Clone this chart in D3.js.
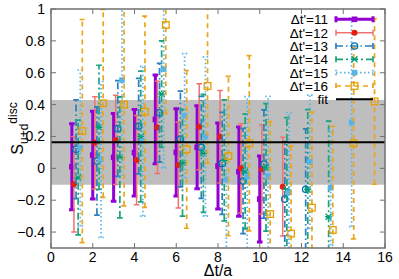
<!DOCTYPE html>
<html>
<head>
<meta charset="utf-8">
<script src="https://cdn.jsdelivr.net/npm/d3@7"></script>
<style>
  body { margin: 0; background: #fff; }
  svg { font-family: "Liberation Sans", Arial, sans-serif; }
</style>
</head>
<body>
<div id="chart"></div>
<script>
// данные: центральные значения и ошибки для каждого dt'
const seriesNames = ['Δt\'=11', 'Δt\'=12', 'Δt\'=13', 'Δt\'=14', 'Δt\'=15', 'Δt\'=16']

const val11 = [0.01, 0.083, 0.069, 0.098, 0.307, 0.10, 0.132, 0.014, -0.021, -0.193]
const err11 = [0.27, 0.275, 0.275, 0.272, 0.278, 0.274, 0.26, 0.27, 0.28, 0.27]

const val12 = [-0.10, 0.16, 0.178, 0.052, 0.257, 0.021, 0.261, 0.198, 0.0, -0.006, -0.115]
const err12 = [0.30, 0.29, 0.28, 0.28, 0.29, 0.27, 0.27, 0.29, 0.28, 0.28, 0.31]

const val13 = [0.12, 0.046, 0.25, 0.265, 0.349, 0.184, 0.132, 0.031, -0.08, 0.027, -0.193, -0.132]
const err13 = [0.31, 0.34, 0.30, 0.30, 0.31, 0.30, 0.32, 0.32, 0.33, 0.34, 0.36, 0.38]

const val14 = [-0.057, 0.257, 0.069, 0.2, 0.466, 0.035, 0.094, 0.05, -0.02, 0.006, -0.132, -0.132, -0.304]
const err14 = [0.36, 0.39, 0.38, 0.41, 0.334, 0.335, 0.37, 0.38, 0.36, 0.40, 0.45, 0.5, 0.6]

const val15 = [0.127, 0.056, 0.554, 0.17, 0.623, 0.33, 0.2, -0.069, -0.05, -0.048, -0.15, 0.04, -0.122, 0.289]
const err15 = [0.49, 0.49, 0.6, 0.47, 0.62, 0.39, 0.5, 0.45, 0.5, 0.5, 0.5, 0.42, 0.36, 0.655]

const val16 = [0.234, 0.408, 0.40, 0.355, 0.90, 0.119, 0.517, 0.077, 0.157, -0.287, -0.41, -0.247, -0.387, 0.157, 0.42]
const err16 = [0.70, 0.59, 0.635, 0.60, 0.555, 0.495, 0.485, 0.5, 0.55, 0.58, 0.55, 0.6, 0.65, 0.6, 0.52]

// фит и полоса ошибки
const fitValue = 0.163
const fitErr = 0.266

const xTicks = [0, 2, 4, 6, 8, 10, 12, 14, 16]
const yTicks = [-0.4, -0.2, 0, 0.2, 0.4, 0.6, 0.8, 1]

const allVals = [val11, val12, val13, val14, val15, val16]
const allErrs = [err11, err12, err13, err14, err15, err16]

// стили линий
const styles = [
    {color: '#9400d3', pcolor: '#9400d3', width: 3, dash: null, pt: 'fsq'},
    {color: '#f07272', pcolor: '#e51e10', width: 1.5, dash: null, pt: 'fcirc'},
    {color: '#2a7fc0', pcolor: '#0072b2', width: 1.7, dash: '7,3,1.5,3', pt: 'ocirc'},
    {color: '#1aa37c', pcolor: '#009e73', width: 1.7, dash: '7,3,2,3', pt: 'star'},
    {color: '#56b4e9', pcolor: '#56b4e9', width: 1.7, dash: '1.5,2.5', pt: 'fsq'},
    {color: '#eaa51a', pcolor: '#e69f00', width: 1.7, dash: '5,4', pt: 'osq'}
]

const W = 399, H = 279
const L = 51, R = 385, T = 9, B = 248

const svg = d3.select('#chart').append('svg')
    .attr('width', W)
    .attr('height', H)

const x = d3.scaleLinear().domain([0, 16]).range([L, R])
const y = d3.scaleLinear().domain([-0.5, 1]).range([B, T])

svg.append('defs').append('clipPath').attr('id', 'clip')
    .append('rect').attr('x', L).attr('y', T).attr('width', R - L).attr('height', B - T)

// серая полоса
svg.append('rect')
    .attr('x', x(0))
    .attr('y', y(fitValue + fitErr))
    .attr('width', x(16) - x(0))
    .attr('height', y(fitValue - fitErr) - y(fitValue + fitErr))
    .style('fill', '#bebebe')

const plot = svg.append('g').attr('clip-path', 'url(#clip)')

function drawPoint(g, px, py, st){
    let s = 2.8
    if(st.pt == 'fsq'){
        g.append('rect').attr('x', px - s).attr('y', py - s).attr('width', 2 * s).attr('height', 2 * s)
            .style('fill', st.pcolor)
    }
    else if(st.pt == 'osq'){
        g.append('rect').attr('x', px - 3.3).attr('y', py - 3.3).attr('width', 6.6).attr('height', 6.6)
            .style('fill', 'none').style('stroke', st.pcolor).style('stroke-width', 1.3)
    }
    else if(st.pt == 'fcirc'){
        g.append('circle').attr('cx', px).attr('cy', py).attr('r', 3).style('fill', st.pcolor)
    }
    else if(st.pt == 'ocirc'){
        g.append('circle').attr('cx', px).attr('cy', py).attr('r', 3.2)
            .style('fill', 'none').style('stroke', st.pcolor).style('stroke-width', 1.3)
    }
    else if(st.pt == 'star'){
        let p = d3.path()
        p.moveTo(px - 3, py - 3); p.lineTo(px + 3, py + 3)
        p.moveTo(px - 3, py + 3); p.lineTo(px + 3, py - 3)
        p.moveTo(px - 3.5, py); p.lineTo(px + 3.5, py)
        g.append('path').attr('d', p.toString())
            .style('stroke', st.pcolor).style('stroke-width', 1.3).style('fill', 'none')
    }
}

// бары с ошибками
for(let k = 0; k < allVals.length; k++){
    let st = styles[k]
    let g = plot.append('g')
    allVals[k].forEach(function(v, i){
        let dt = i + 1 + k * 0.1
        let px = x(dt)
        let hi = v + allErrs[k][i]
        let lo = v - allErrs[k][i]
        let cw = 2.8
        let p = d3.path()
        p.moveTo(px, y(lo)); p.lineTo(px, y(hi))
        p.moveTo(px - cw, y(hi)); p.lineTo(px + cw, y(hi))
        p.moveTo(px - cw, y(lo)); p.lineTo(px + cw, y(lo))
        g.append('path').attr('d', p.toString())
            .style('stroke', st.color)
            .style('stroke-width', st.width)
            .style('stroke-dasharray', st.dash)
            .style('fill', 'none')
        drawPoint(g, px, y(v), st)
    })
}

// линия фита
plot.append('line')
    .attr('x1', x(0)).attr('x2', x(16))
    .attr('y1', y(fitValue)).attr('y2', y(fitValue))
    .style('stroke', '#000').style('stroke-width', 2)

// рамка и деления
const axisColor = '#707070'
svg.append('rect')
    .attr('x', L).attr('y', T).attr('width', R - L).attr('height', B - T)
    .style('fill', 'none').style('stroke', axisColor).style('stroke-width', 1.5)

xTicks.forEach(function(t){
    svg.append('line').attr('x1', x(t)).attr('x2', x(t)).attr('y1', B).attr('y2', B - 5)
        .style('stroke', axisColor)
    svg.append('line').attr('x1', x(t)).attr('x2', x(t)).attr('y1', T).attr('y2', T + 5)
        .style('stroke', axisColor)
    svg.append('text').attr('x', x(t)).attr('y', 262)
        .attr('text-anchor', 'middle').style('font-size', '14px').text(t)
})

yTicks.forEach(function(t){
    svg.append('line').attr('x1', L).attr('x2', L + 5).attr('y1', y(t)).attr('y2', y(t))
        .style('stroke', axisColor)
    svg.append('line').attr('x1', R).attr('x2', R - 5).attr('y1', y(t)).attr('y2', y(t))
        .style('stroke', axisColor)
    svg.append('text').attr('x', 45).attr('y', y(t) + 5)
        .attr('text-anchor', 'end').style('font-size', '14px').text(d3.format('')(+t.toFixed(1)))
})

// подписи осей
svg.append('text').attr('x', (L + R) / 2).attr('y', 276)
    .attr('text-anchor', 'middle').style('font-size', '16px').text('Δt/a')

const ylab = svg.append('text')
    .attr('transform', 'translate(23,' + ((T + B) / 2) + ') rotate(-90)')
    .attr('text-anchor', 'middle')
    .style('font-size', '16px')
ylab.append('tspan').text('S')
ylab.append('tspan').attr('dy', 5).style('font-size', '12px').text('u+d')
ylab.append('tspan').attr('dy', -11).style('font-size', '12px').text('disc')

// легенда
const legX = 328, legL = 336, legR = 373
const rowY = [19.3, 32.7, 46, 59.3, 72.7, 86, 99.3]
seriesNames.forEach(function(name, k){
    let st = styles[k]
    let cy = rowY[k]
    svg.append('text').attr('x', legX).attr('y', cy + 5)
        .attr('text-anchor', 'end').style('font-size', '13.5px').text(name)
    let p = d3.path()
    p.moveTo(legL, cy); p.lineTo(legR, cy)
    p.moveTo(legL, cy - 3); p.lineTo(legL, cy + 3)
    p.moveTo(legR, cy - 3); p.lineTo(legR, cy + 3)
    svg.append('path').attr('d', p.toString())
        .style('stroke', st.color).style('stroke-width', st.width)
        .style('stroke-dasharray', st.dash).style('fill', 'none')
    drawPoint(svg, (legL + legR) / 2, cy, st)
})
svg.append('text').attr('x', legX).attr('y', rowY[6] + 5)
    .attr('text-anchor', 'end').style('font-size', '13.5px').text('fit')
svg.append('line').attr('x1', legL).attr('x2', legR).attr('y1', rowY[6]).attr('y2', rowY[6])
    .style('stroke', '#000').style('stroke-width', 2)
</script>
</body>
</html>
